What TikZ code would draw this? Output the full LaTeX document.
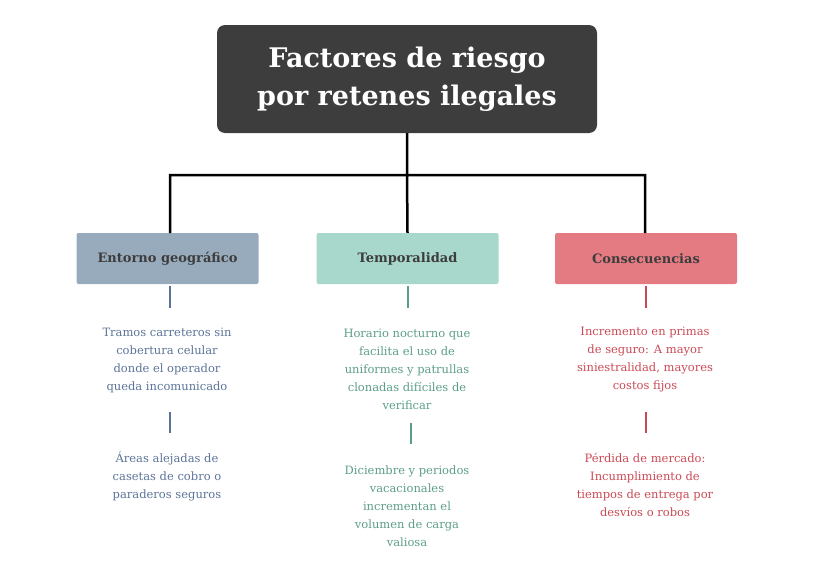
\documentclass[tikz,border=0pt]{standalone}
\usepackage{fontspec}
\setmainfont{DejaVu Serif}
\definecolor{titlebg}{HTML}{3D3D3D}
\definecolor{geoblue}{HTML}{98ABBD}
\definecolor{tempgreen}{HTML}{A8D8CB}
\definecolor{consred}{HTML}{E57B82}
\definecolor{geotext}{HTML}{5C7398}
\definecolor{temptext}{HTML}{5C9E85}
\definecolor{constext}{HTML}{C94A55}
\tikzset{
    catbox/.style={minimum width=182pt, minimum height=51pt, rounded corners=2pt,
        font=\fontsize{13}{15}\selectfont\bfseries, text=titlebg},
    leaf/.style={align=center, font=\fontsize{11.5}{18}\selectfont},
    tick/.style={line width=2.2pt}
}
\begin{document}
\begin{tikzpicture}[x=1pt, y=-1pt]
    \useasboundingbox (0,0) rectangle (816,570);
    \node[fill=titlebg, rounded corners=8pt, minimum width=380pt, minimum height=108pt,
        text=white, align=center, font=\fontsize{27}{38}\selectfont\bfseries]
        (title) at (407,79) {Factores de riesgo\\por retenes ilegales};
    \node[catbox, fill=geoblue] (geo) at (167.5,258.5) {Entorno geográfico};
    \node[catbox, fill=tempgreen] (temp) at (407.5,258.5) {Temporalidad};
    \node[catbox, fill=consred] (cons) at (646,258.5) {Consecuencias};
    \coordinate (hub) at (407,175);
    \coordinate (geotop) at (170,233);
    \coordinate (constop) at (645,233);
    \draw[line width=2.5pt]
    (title.south) -- (hub)
    (geotop) |- (hub) -| (constop)
    (hub) -- (temp.north)
    ;
    % entorno
    \node[leaf, text=geotext] (geoa) at (167,360) {Tramos carreteros sin\\cobertura celular\\donde el operador\\queda incomunicado};
    \node[leaf, text=geotext] (geob) at (167,476) {Áreas alejadas de\\casetas de cobro o\\paraderos seguros};
    \draw[tick, geotext] (170,286) -- (170,308) (170,412) -- (170,433);
    % temporalidad
    \node[leaf, text=temptext] (tempa) at (407,369) {Horario nocturno que\\facilita el uso de\\uniformes y patrullas\\clonadas difíciles de\\verificar};
    \node[leaf, text=temptext] (tempb) at (407,506) {Diciembre y periodos\\vacacionales\\incrementan el\\volumen de carga\\valiosa};
    \draw[tick, temptext] (408,286) -- (408,308) (411,423) -- (411,444);
    % consecuencias
    \node[leaf, text=constext] (consa) at (645,360) {Incremento en primas\\de seguro: A mayor\\siniestralidad, mayores\\costos fijos};
    \node[leaf, text=constext] (consb) at (645,485) {Pérdida de mercado:\\Incumplimiento de\\tiempos de entrega por\\desvíos o robos};
    \draw[tick, constext] (646,286) -- (646,308) (646,412) -- (646,433);
\end{tikzpicture}
\end{document}
